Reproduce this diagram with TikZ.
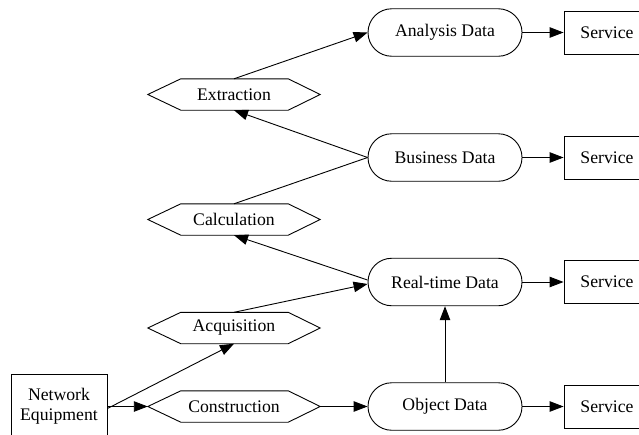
\documentclass[tikz,border=0pt]{standalone}
\usepackage{fontspec}
\setmainfont{Liberation Serif}
\usetikzlibrary{arrows.meta,shapes.misc}
\begin{document}
\begin{tikzpicture}[x=1pt,y=-1pt,
  every node/.style={font=\fontsize{17.7}{20}\selectfont},
  edge/.style={line width=0.9pt, draw=black},
  arr/.style={edge, -{Triangle[length=14pt,width=10.5pt]}},
  datanode/.style={rounded rectangle, draw, line width=0.9pt,
    minimum width=154pt, minimum height=47.5pt, inner sep=0pt},
  svc/.style={rectangle, draw, line width=0.9pt,
    minimum width=86pt, minimum height=43pt, inner sep=0pt},
  hexbox/.style={rectangle, minimum width=172pt, minimum height=31pt, inner sep=0pt},
  hexline/.style={line width=0.9pt, draw=black},
  source/.style={rectangle, draw, line width=0.9pt, align=center,
    minimum width=96pt, minimum height=64pt, inner sep=0pt}]

\useasboundingbox (0,0) rectangle (639,434);
\fill[white] (0,0) rectangle (639,434);
\clip (0,0) rectangle (639,434);

% source equipment
\node[source] (ne) at (59,406.5) {Network\\Equipment};

% processing steps (hexagons)
\node[hexbox] (ext)  at (234,94.5)  {Extraction};
\node[hexbox] (calc) at (234,219.5) {Calculation};
\node[hexbox] (acq)  at (234,328)   {Acquisition};
\node[hexbox] (cons) at (234,406.5) {Construction};
\foreach \n in {ext,calc,acq,cons}
  \draw[hexline] (\n.west) -- ([xshift=33pt]\n.north west) -- ([xshift=-32pt]\n.north east)
    -- (\n.east) -- ([xshift=-32pt]\n.south east) -- ([xshift=33pt]\n.south west) -- cycle;

% data stores
\node[datanode] (ad) at (445,32.5)  {Analysis Data};
\node[datanode] (bd) at (445,157.5) {Business Data};
\node[datanode] (rt) at (445,282)   {Real-time Data};
\node[datanode] (od) at (445,406.5) {Object Data};

% services
\node[svc] (s1) at (607,32.5)  {Service};
\node[svc] (s2) at (607,157.5) {Service};
\node[svc] (s3) at (607,282)   {Service};
\node[svc] (s4) at (607,406.5) {Service};

% flow
\draw[arr] (ne.east) -- (cons.west);
\draw[arr] ([yshift=-2pt]ne.east) -- (acq.south);
\draw[arr] (cons.east) -- (od.west);
\draw[arr] (od.north) -- (rt.south);
\draw[arr] (acq.north) -- ([yshift=-2pt]rt.west);
\draw[arr] ([yshift=2pt]rt.west) -- (calc.south);
\draw[edge] (calc.north) -- (bd.west);
\draw[arr] (bd.west) -- (ext.south);
\draw[arr] (ext.north) -- (ad.west);

\draw[arr] (ad.east) -- (s1.west);
\draw[arr] (bd.east) -- (s2.west);
\draw[arr] (rt.east) -- (s3.west);
\draw[arr] (od.east) -- (s4.west);
\end{tikzpicture}
\end{document}
